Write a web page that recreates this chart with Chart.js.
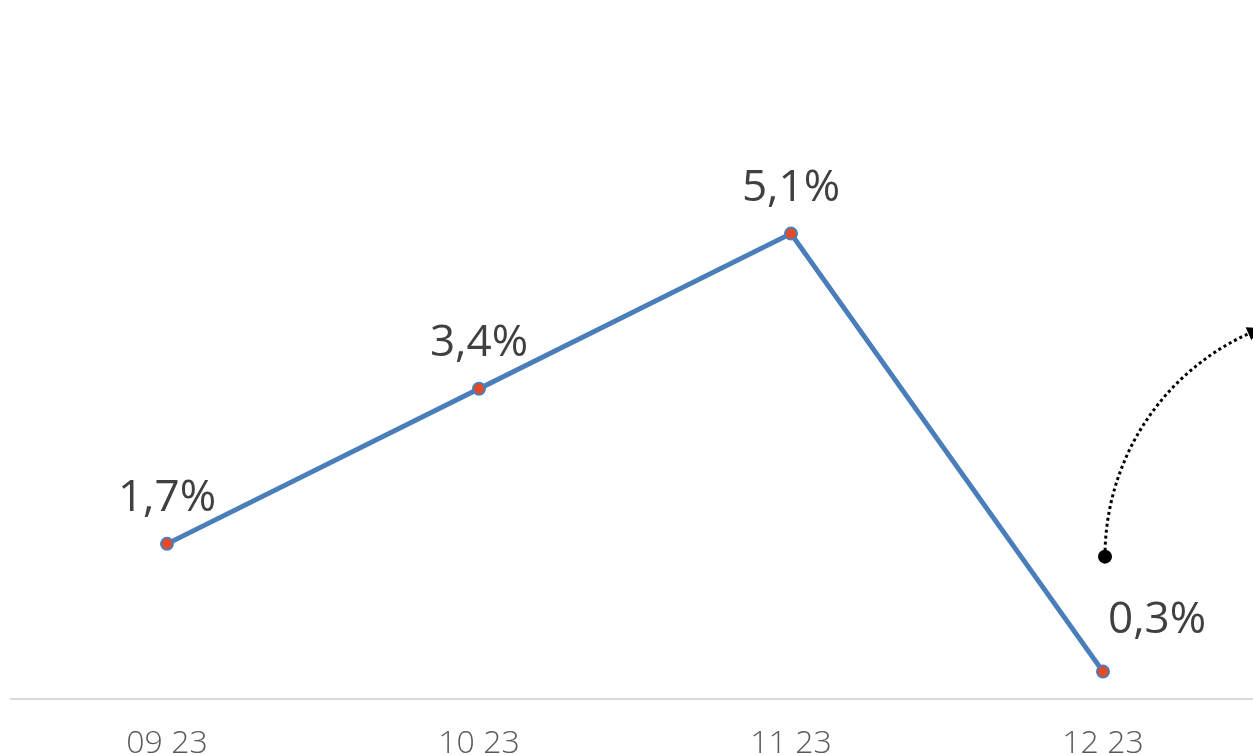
<!DOCTYPE html>
<html>
<head>
<meta charset="utf-8">
<script src="https://cdn.jsdelivr.net/npm/chart.js@4.4.1/dist/chart.umd.min.js"></script>
<style>
  html, body { margin: 0; padding: 0; background: #fff; overflow: hidden; }
  #wrap { width: 1259px; height: 759px; }
</style>
</head>
<body>
<div id="wrap"><canvas id="rateChart" width="1259" height="759"></canvas></div>
<script>
const months = ['09 23', '10 23', '11 23', '12 23'];
const rates = [1.7, 3.4, 5.1, 0.3];
const rateLabels = ['1,7%', '3,4%', '5,1%', '0,3%'];

// value labels above each point (the last one sits to the right)
const pointLabels = {
  id: 'pointLabels',
  afterDatasetsDraw(chart) {
    const ctx = chart.ctx;
    const meta = chart.getDatasetMeta(0);
    ctx.save();
    ctx.font = '400 44px "Open Sans"';
    ctx.fillStyle = '#404040';
    ctx.textBaseline = 'alphabetic';
    meta.data.forEach((pt, i) => {
      const last = i === meta.data.length - 1;
      ctx.textAlign = last ? 'left' : 'center';
      ctx.fillText(rateLabels[i], last ? pt.x + 5 : pt.x, pt.y - (last ? 39 : 33));
    });
    ctx.restore();
  }
};

// dotted curved arrow starting near the last point
const curvedArrow = {
  id: 'curvedArrow',
  afterDraw(chart) {
    const ctx = chart.ctx;
    const x0 = chart.scales.x.getPixelForValue(3) + 2;
    const y0 = chart.scales.y.getPixelForValue(1.56);
    const r = 245;
    const cx = x0 + r, cy = y0;
    const end = Math.PI + 1.16;
    ctx.save();
    ctx.strokeStyle = '#000';
    ctx.lineWidth = 3;
    ctx.setLineDash([3, 3]);
    ctx.beginPath();
    ctx.arc(cx, cy, r, Math.PI, end, false);
    ctx.stroke();
    ctx.setLineDash([]);
    // arrow head
    const ex = cx + r * Math.cos(end), ey = cy + r * Math.sin(end);
    const dx = -Math.sin(end), dy = Math.cos(end);
    const nx = -dy, ny = dx;
    ctx.fillStyle = '#000';
    ctx.beginPath();
    ctx.moveTo(ex + dx * 10, ey + dy * 10);
    ctx.lineTo(ex - dx * 4 + nx * 7, ey - dy * 4 + ny * 7);
    ctx.lineTo(ex - dx * 4 - nx * 7, ey - dy * 4 - ny * 7);
    ctx.closePath();
    ctx.fill();
    // start dot
    ctx.beginPath();
    ctx.arc(x0, y0, 7, 0, Math.PI * 2);
    ctx.fill();
    ctx.restore();
  }
};

new Chart(document.getElementById('rateChart'), {
  type: 'line',
  data: {
    labels: months,
    datasets: [{
      data: rates,
      borderColor: '#4A7EBB',
      borderWidth: 5,
      pointRadius: 6,
      pointBorderWidth: 2,
      pointBackgroundColor: '#E64A24',
      pointBorderColor: '#4A7EBB',
      tension: 0,
      clip: false
    }]
  },
  options: {
    responsive: false,
    animation: false,
    events: [],
    layout: { autoPadding: false, padding: { left: 11, right: 0, top: 0, bottom: 0 } },
    plugins: { legend: { display: false }, tooltip: { enabled: false } },
    scales: {
      x: {
        offset: true,
        grid: { display: false, drawTicks: false },
        border: { display: true, color: '#D9D9D9', width: 2 },
        ticks: {
          color: '#595959',
          padding: 26,
          font: { family: 'Open Sans', size: 32, weight: 300 }
        },
        afterFit(scale) { scale.height = 60; }
      },
      y: {
        display: false,
        min: 0,
        max: 7.66
      }
    }
  },
  plugins: [pointLabels, curvedArrow]
});
</script>
</body>
</html>
